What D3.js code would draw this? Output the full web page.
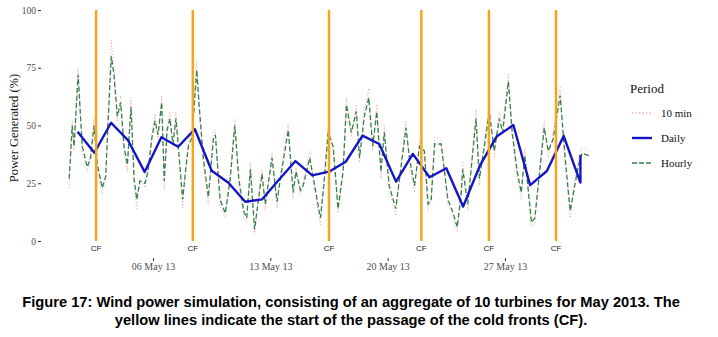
<!DOCTYPE html>
<html>
<head>
<meta charset="utf-8">
<script src="https://cdn.jsdelivr.net/npm/d3@7"></script>
<style>
  html, body { margin: 0; padding: 0; background: #fff; }
  svg { display: block; }
  .axis text { font-family: "Liberation Serif", "Times New Roman", serif; fill: #4d4d4d; }
  .axis line { stroke: #333; }
</style>
</head>
<body>
<div id="chart"></div>
<script>
// ---- data (May 2013, % of rated power) ----
// day offsets are days since 01 May 2013 00:00 UTC
const hourly = [
  [0.0, 27], [0.18, 50], [0.29, 41], [0.53, 72], [0.78, 41], [1.08, 32], [1.28, 36], [1.48, 50],
  [1.68, 33], [1.97, 23], [2.18, 28], [2.31, 50], [2.51, 80], [2.67, 72], [2.87, 54], [3.07, 60],
  [3.27, 41], [3.47, 33], [3.69, 58], [3.87, 27], [4.03, 18], [4.22, 26], [4.52, 25], [4.70, 30],
  [4.94, 45], [5.12, 52], [5.30, 46], [5.52, 60], [5.67, 26], [5.84, 48], [6.01, 53], [6.19, 42],
  [6.37, 53], [6.52, 40], [6.77, 18], [6.94, 30], [7.11, 41], [7.33, 45], [7.61, 74], [7.74, 60],
  [8.00, 36], [8.30, 19], [8.60, 44], [8.72, 46], [8.88, 30], [9.00, 18], [9.31, 12], [9.61, 27],
  [9.88, 50], [10.12, 27], [10.41, 13], [10.59, 10], [10.81, 31], [11.06, 5], [11.31, 19], [11.50, 29],
  [11.70, 16], [12.10, 36], [12.40, 17], [12.60, 27], [12.89, 40], [13.07, 48], [13.36, 21], [13.53, 30],
  [13.80, 22], [13.96, 24], [14.35, 36], [14.74, 20], [14.99, 10], [15.19, 24], [15.45, 47], [15.75, 41],
  [16.04, 14], [16.34, 30], [16.54, 59], [16.83, 47], [17.13, 56], [17.32, 36], [17.61, 54], [17.87, 62],
  [18.11, 41], [18.35, 56], [18.60, 30], [18.80, 47], [19.09, 24], [19.48, 14], [19.78, 31], [20.09, 49],
  [20.30, 36], [20.60, 24], [20.90, 41], [21.19, 39], [21.41, 16], [21.60, 18], [21.80, 42], [22.19, 42],
  [22.59, 18], [22.91, 12], [23.15, 6], [23.38, 20], [23.48, 31], [23.78, 16], [24.27, 53], [24.47, 27],
  [24.77, 41], [25.06, 56], [25.36, 39], [25.66, 53], [25.86, 47], [26.20, 69], [26.43, 47], [26.73, 30],
  [26.97, 21], [27.18, 37], [27.58, 8], [27.78, 10], [28.07, 30], [28.34, 49], [28.58, 39], [28.87, 44],
  [29.29, 63], [29.59, 36], [29.89, 13], [30.09, 21], [30.39, 33], [30.59, 38], [31.0, 37]
];

const tenMin = [
  [0.0, 23], [0.18, 52], [0.29, 39], [0.53, 75], [0.78, 38], [1.08, 30], [1.28, 38], [1.48, 53],
  [1.68, 30], [1.97, 20], [2.18, 27], [2.31, 52], [2.51, 87], [2.67, 76], [2.87, 52], [3.07, 63],
  [3.27, 38], [3.47, 30], [3.69, 62], [3.87, 24], [4.03, 14], [4.22, 27], [4.52, 23], [4.70, 31],
  [4.94, 47], [5.12, 55], [5.30, 44], [5.52, 63], [5.67, 22], [5.84, 50], [6.01, 56], [6.19, 40],
  [6.37, 56], [6.52, 38], [6.77, 14], [6.94, 32], [7.11, 43], [7.33, 48], [7.61, 78], [7.74, 58],
  [8.00, 33], [8.30, 16], [8.60, 47], [8.72, 48], [8.88, 27], [9.00, 15], [9.31, 10], [9.61, 29],
  [9.88, 53], [10.12, 24], [10.41, 10], [10.59, 8], [10.81, 34], [11.06, 3], [11.31, 20], [11.50, 31],
  [11.70, 13], [12.10, 38], [12.40, 14], [12.60, 29], [12.89, 43], [13.07, 51], [13.36, 18], [13.53, 32],
  [13.80, 20], [13.96, 26], [14.35, 39], [14.74, 17], [14.99, 7], [15.19, 26], [15.45, 50], [15.75, 39],
  [16.04, 12], [16.34, 32], [16.54, 62], [16.83, 45], [17.13, 59], [17.32, 34], [17.61, 57], [17.87, 66],
  [18.11, 39], [18.35, 59], [18.60, 27], [18.80, 50], [19.09, 21], [19.48, 11], [19.78, 33], [20.09, 52],
  [20.30, 34], [20.60, 21], [20.90, 44], [21.19, 36], [21.41, 13], [21.60, 20], [21.80, 45], [22.19, 44],
  [22.59, 16], [22.91, 10], [23.15, 4], [23.38, 22], [23.48, 34], [23.78, 13], [24.27, 57], [24.47, 24],
  [24.77, 44], [25.06, 59], [25.36, 36], [25.66, 56], [25.86, 50], [26.20, 72], [26.43, 45], [26.73, 27],
  [26.97, 18], [27.18, 40], [27.58, 6], [27.78, 8], [28.07, 32], [28.34, 52], [28.58, 36], [28.87, 47],
  [29.29, 67], [29.59, 33], [29.89, 10], [30.09, 23], [30.39, 36], [30.59, 41], [31.0, 39]
];

// daily means, plotted at noon of each day (01..31 May) + last partial value
const dailyPct = [47.3, 38.2, 51.2, 43.7, 29.9, 44.9, 40.8, 48.4, 30.4, 25.2, 17.0, 18.0, 26.4, 34.6, 28.4, 30.0,
  34.3, 45.6, 42.0, 25.7, 37.7, 27.6, 31.5, 14.9, 32.6, 45.2, 50.2, 24.2, 30.3, 45.5, 25.3];
const dailyTail = 37.2;

const coldFronts = ["2013-05-02T14:30Z", "2013-05-08T09:00Z", "2013-05-16T12:00Z",
  "2013-05-22T00:15Z", "2013-05-26T01:00Z", "2013-05-30T01:00Z"];

const xTicks = ["2013-05-06", "2013-05-13", "2013-05-20", "2013-05-27"];
const yTicks = [0, 25, 50, 75, 100];

const legendItems = ["10 min", "Daily", "Hourly"];

// ---- drawing ----
const W = 718, H = 337;
const C = { ten: "#ef8a8a", daily: "#1515c4", hourly: "#35814a", cf: "#f3a51c" };
const t0 = Date.UTC(2013, 4, 1);
const day = 864e5;
const toDate = (t) => new Date(t0 + t * day);

const svg = d3.select("#chart").append("svg").attr("width", W).attr("height", H);
svg.append("rect").attr("width", W).attr("height", H).attr("fill", "#fff");

const x = d3.scaleUtc().domain([toDate(0), toDate(31)]).range([69.2, 588.8]);
const y = d3.scaleLinear().domain([0, 100]).range([241, 10]);

const line = d3.line().x((d) => x(toDate(d[0]))).y((d) => y(d[1]));

// y axis
svg.append("g").attr("class", "axis y").attr("transform", "translate(41,0)")
  .call(d3.axisLeft(y).tickValues(yTicks).tickSize(3).tickPadding(2))
  .call((g) => g.select(".domain").remove())
  .selectAll("text").style("font-size", "9.5px");

// x axis
svg.append("g").attr("class", "axis x").attr("transform", "translate(0,258)")
  .call(d3.axisBottom(x).tickValues(xTicks.map((s) => new Date(s + "T00:00Z")))
    .tickFormat(d3.utcFormat("%d %b %y")).tickSize(3).tickPadding(2))
  .call((g) => g.select(".domain").remove())
  .selectAll("text").style("font-size", "10px");

svg.append("text")
  .attr("transform", "translate(18,128) rotate(-90)")
  .attr("text-anchor", "middle")
  .style("font-family", "'Liberation Serif', serif").style("font-size", "12.5px").attr("fill", "#111")
  .text("Power Generated (%)");

// series
svg.append("path").datum(tenMin).attr("d", line)
  .attr("fill", "none").attr("stroke", C.ten).attr("stroke-width", 1)
  .attr("stroke-dasharray", "1,2").attr("opacity", 0.75);

svg.append("path").datum(hourly).attr("d", line)
  .attr("fill", "none").attr("stroke", C.hourly).attr("stroke-width", 1.3)
  .attr("stroke-dasharray", "5,2.5");

const daily = dailyPct.map((v, i) => [i + 0.5, v]).concat([[30.5, dailyTail]]);
svg.append("path").datum(daily).attr("d", line)
  .attr("fill", "none").attr("stroke", C.daily).attr("stroke-width", 2.4)
  .attr("stroke-linejoin", "round");

// cold fronts
const cf = svg.append("g");
cf.selectAll("line").data(coldFronts).join("line")
  .attr("x1", (d) => x(new Date(d))).attr("x2", (d) => x(new Date(d)))
  .attr("y1", y(0)).attr("y2", y(100))
  .attr("stroke", C.cf).attr("stroke-width", 2.5);
cf.selectAll("text").data(coldFronts).join("text")
  .attr("x", (d) => x(new Date(d))).attr("y", 251)
  .attr("text-anchor", "middle")
  .style("font-family", "'Liberation Sans', Arial, sans-serif").style("font-size", "8px")
  .attr("fill", "#222").text("CF");

// legend
const lg = svg.append("g").attr("transform", "translate(630,0)");
lg.append("text").attr("x", 0).attr("y", 93)
  .style("font-family", "'Liberation Serif', serif").style("font-size", "13px").attr("fill", "#111")
  .text("Period");
const keyStyle = {
  "10 min": { c: C.ten, w: 1.2, dash: "1.5,2" },
  "Daily": { c: C.daily, w: 2.4, dash: null },
  "Hourly": { c: C.hourly, w: 1.3, dash: "5,2" }
};
legendItems.forEach((k, i) => {
  const yy = 113 + i * 25;
  lg.append("line").attr("x1", 2).attr("x2", 22).attr("y1", yy).attr("y2", yy)
    .attr("stroke", keyStyle[k].c).attr("stroke-width", keyStyle[k].w)
    .attr("stroke-dasharray", keyStyle[k].dash);
  lg.append("text").attr("x", 31).attr("y", yy + 3.5)
    .style("font-family", "'Liberation Serif', serif").style("font-size", "11px").attr("fill", "#111")
    .text(k);
});

// caption
const cap = svg.append("text").attr("text-anchor", "middle")
  .style("font-family", "'Liberation Sans', Arial, sans-serif").style("font-size", "14.7px")
  .style("font-weight", "bold").attr("fill", "#000");
cap.append("tspan").attr("x", 351).attr("y", 307)
  .text("Figure 17: Wind power simulation, consisting of an aggregate of 10 turbines for May 2013. The");
cap.append("tspan").attr("x", 351).attr("y", 325)
  .text("yellow lines indicate the start of the passage of the cold fronts (CF).");
</script>
</body>
</html>
